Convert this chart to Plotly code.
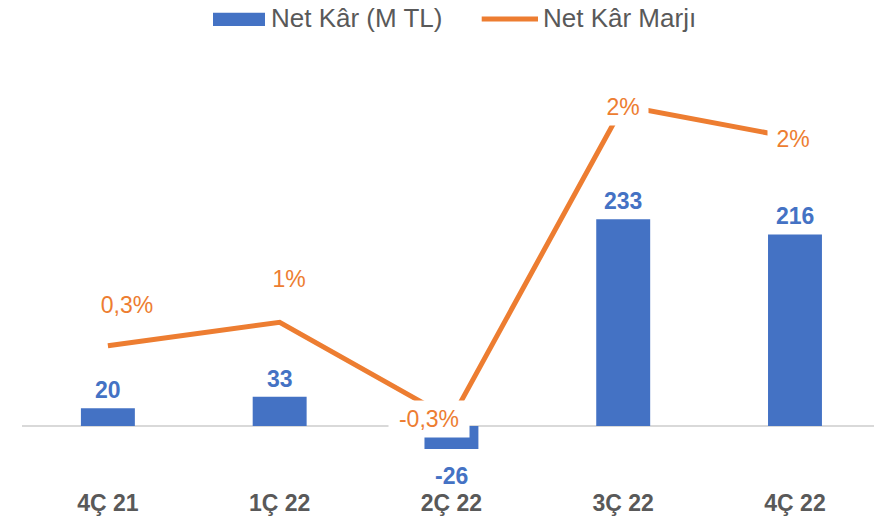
import plotly.graph_objects as go

# Quarterly net profit (million TL) and net profit margin (%)
quarters = ["4Ç 21", "1Ç 22", "2Ç 22", "3Ç 22", "4Ç 22"]
net_profit = [20, 33, -26, 233, 216]
margin_pct = [0.33, 0.525, -0.28, 2.33, 2.06]
margin_decimals = [1, 0, 1, 0, 0]

BLUE = "#4472C4"
ORANGE = "#ED7D31"
GREY_TXT = "#595959"
FONT = "Liberation Sans, Arial, sans-serif"

W, H = 874, 519
L, R, T, B = 22, 0, 40, 49


def px_x(px):
    return (px - L) / (W - L - R)


def px_y(py):
    return (H - B - py) / (H - T - B)


def fmt_pct(v, d):
    return f"{v:.{d}f}".replace(".", ",") + "%"


fig = go.Figure()

fig.add_trace(go.Bar(
    x=quarters, y=net_profit, name="Net Kâr (M TL)",
    marker=dict(color=BLUE, line=dict(width=0)),
    width=0.314, showlegend=False, yaxis="y",
))

fig.add_trace(go.Scatter(
    x=quarters, y=margin_pct, name="Net Kâr Marjı",
    mode="lines", line=dict(color=ORANGE, width=5),
    showlegend=False, yaxis="y2",
))

annotations = []

# value labels for the bars
for q, v in zip(quarters, net_profit):
    annotations.append(dict(
        x=q, y=v, xref="x", yref="y", text=str(v), showarrow=False,
        yanchor="middle", yshift=18 if v >= 0 else -27,
        font=dict(family=FONT, size=23, color=BLUE, weight="bold"),
    ))

# margin labels (white boxes where they sit on the line)
label_xshift = [19, 9, -22, 0, -2]
label_yshift = [41, 43, 0, -1, -1]
label_width = [60, 40, 72, 42, 42]
for q, v, d, dx, dy, w in zip(quarters, margin_pct, margin_decimals,
                              label_xshift, label_yshift, label_width):
    annotations.append(dict(
        x=q, y=v, xref="x", yref="y2", text=fmt_pct(v, d), showarrow=False,
        xanchor="center", yanchor="middle", xshift=dx, yshift=dy,
        width=w, height=28, borderpad=4, bgcolor="white",
        font=dict(family=FONT, size=23, color=ORANGE),
    ))

# legend drawn at the top
annotations += [
    dict(x=px_x(269), y=px_y(18), xref="paper", yref="paper",
         text="Net Kâr (M TL)", showarrow=False, xanchor="left", yanchor="middle",
         font=dict(family=FONT, size=26, color=GREY_TXT)),
    dict(x=px_x(540.5), y=px_y(18), xref="paper", yref="paper",
         text="Net Kâr Marjı", showarrow=False, xanchor="left", yanchor="middle",
         font=dict(family=FONT, size=26, color=GREY_TXT)),
]
shapes = [
    dict(type="rect", xref="paper", yref="paper",
         x0=px_x(213), x1=px_x(265), y0=px_y(26), y1=px_y(12.7),
         fillcolor=BLUE, line=dict(width=0)),
    dict(type="line", xref="paper", yref="paper",
         x0=px_x(481.7), x1=px_x(538), y0=px_y(19), y1=px_y(19),
         line=dict(color=ORANGE, width=5)),
]

fig.update_layout(
    width=W, height=H,
    margin=dict(l=L, r=R, t=T, b=B, pad=0),
    paper_bgcolor="white", plot_bgcolor="white",
    showlegend=False,
    xaxis=dict(
        range=[-0.5, 4.46], showgrid=False, zeroline=False, showline=False,
        ticks="", ticklabelstandoff=17,
        tickfont=dict(family=FONT, size=23, color=GREY_TXT, weight="bold"),
    ),
    yaxis=dict(
        range=[-49.6, 435.2], showgrid=False, showticklabels=False,
        zeroline=True, zerolinecolor="#D9D9D9", zerolinewidth=1.5, showline=False,
    ),
    yaxis2=dict(
        range=[-0.7058, 2.8775], overlaying="y", side="right",
        showgrid=False, showticklabels=False, zeroline=False, showline=False,
    ),
    annotations=annotations,
    shapes=shapes,
)

fig.write_html("out.html")
